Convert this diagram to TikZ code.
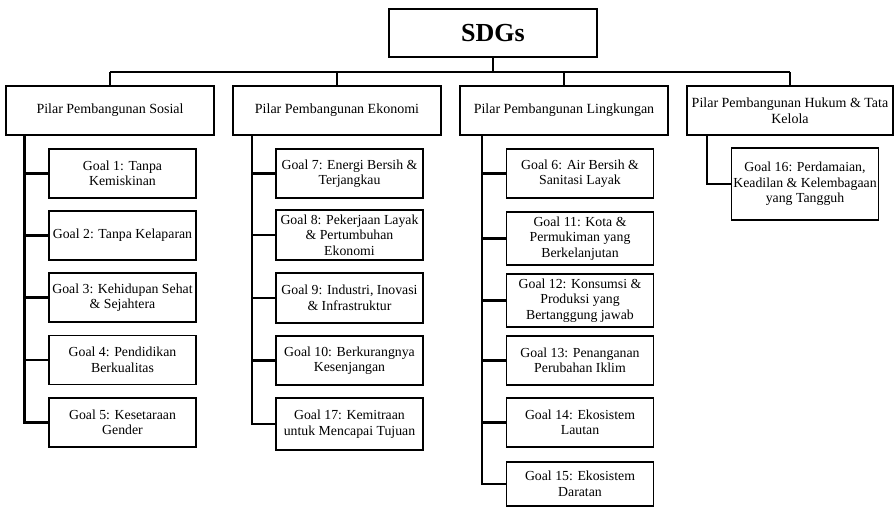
\documentclass[tikz,border=0pt]{standalone}
\usepackage{fontspec}
\setmainfont{Liberation Serif}
\begin{document}
\begin{tikzpicture}[x=1pt,y=-1pt,
  box/.style={draw=black, line width=1.5pt, fill=white, inner sep=1pt, align=center,
    font=\fontsize{13.8}{15.5}\selectfont},
  pillar/.style={box, minimum width=208pt, minimum height=49pt, font=\fontsize{14}{15.5}\selectfont},
  goal/.style={box, minimum width=147pt, minimum height=49pt},
  conn/.style={draw=black, line width=2.2pt}]
\useasboundingbox (0,0) rectangle (895,507);

% root
\node[box, minimum width=208pt, minimum height=48pt, font=\fontsize{26}{30}\selectfont\bfseries]
  (sdg) at (493,33) {SDGs};

% pillars
\node[pillar] (p1) at (110,110.5) {Pilar Pembangunan Sosial};
\node[pillar] (p2) at (337,110.5) {Pilar Pembangunan Ekonomi};
\node[pillar] (p3) at (564,110.5) {Pilar Pembangunan Lingkungan};
\node[pillar, minimum width=206pt] (p4) at (790,110.5) {Pilar Pembangunan Hukum \& Tata\\Kelola};

% bus from root to pillars
\coordinate (busL) at (110,72);
\coordinate (busR) at (790,72);
\draw[conn] (busL) -- (busR);
\draw[conn] (sdg.south) -- (sdg.south |- busL);
\foreach \p in {p1,p2,p3,p4} \draw[conn] (\p.north) -- (\p.north |- busL);

% social goals
\node[goal] (g1) at (122.5,173.5) {Goal 1: Tanpa\\Kemiskinan};
\node[goal] (g2) at (122.5,235.5) {Goal 2: Tanpa Kelaparan};
\node[goal] (g3) at (122.5,297.5) {Goal 3: Kehidupan Sehat\\\& Sejahtera};
\node[goal] (g4) at (122.5,360) {Goal 4: Pendidikan\\Berkualitas};
\node[goal] (g5) at (122.5,422.5) {Goal 5: Kesetaraan\\Gender};
\coordinate (s1) at (24.5,135);
\draw[conn] (s1) |- (g5.west);
\foreach \g in {g1,g2,g3,g4} \draw[conn] (\g.west) -- (\g.west -| s1);

% economic goals
\node[goal] (g7) at (349.5,173.5) {Goal 7: Energi Bersih \&\\Terjangkau};
\node[goal, minimum height=50pt] (g8) at (349.5,235) {Goal 8: Pekerjaan Layak\\\& Pertumbuhan\\Ekonomi};
\node[goal, minimum height=50pt] (g9) at (349.5,298) {Goal 9: Industri, Inovasi\\\& Infrastruktur};
\node[goal] (g10) at (349.5,360.5) {Goal 10: Berkurangnya\\Kesenjangan};
\node[goal, minimum height=52pt] (g17) at (349.5,424) {Goal 17: Kemitraan\\untuk Mencapai Tujuan};
\coordinate (s2) at (252,135);
\draw[conn] (s2) |- (g17.west);
\foreach \g in {g7,g8,g9,g10} \draw[conn] (\g.west) -- (\g.west -| s2);

% environmental goals
\node[goal] (g6) at (580,173.5) {Goal 6: Air Bersih \&\\Sanitasi Layak};
\node[goal, minimum height=53pt] (g11) at (580,238.5) {Goal 11: Kota \&\\Permukiman yang\\Berkelanjutan};
\node[goal, minimum height=53pt] (g12) at (580,300.5) {Goal 12: Konsumsi \&\\Produksi yang\\Bertanggung jawab};
\node[goal] (g13) at (580,360.5) {Goal 13: Penanganan\\Perubahan Iklim};
\node[goal] (g14) at (580,422.5) {Goal 14: Ekosistem\\Lautan};
\node[goal, minimum height=44pt] (g15) at (580,484) {Goal 15: Ekosistem\\Daratan};
\coordinate (s3) at (482,135);
\draw[conn] (s3) |- (g15.west);
\foreach \g in {g6,g11,g12,g13,g14} \draw[conn] (\g.west) -- (\g.west -| s3);

% governance goal
\node[goal, minimum height=72pt] (g16) at (805,184) {Goal 16: Perdamaian,\\Keadilan \& Kelembagaan\\yang Tangguh};
\coordinate (s4) at (707,135);
\draw[conn] (s4) |- (g16.west);
\end{tikzpicture}
\end{document}
